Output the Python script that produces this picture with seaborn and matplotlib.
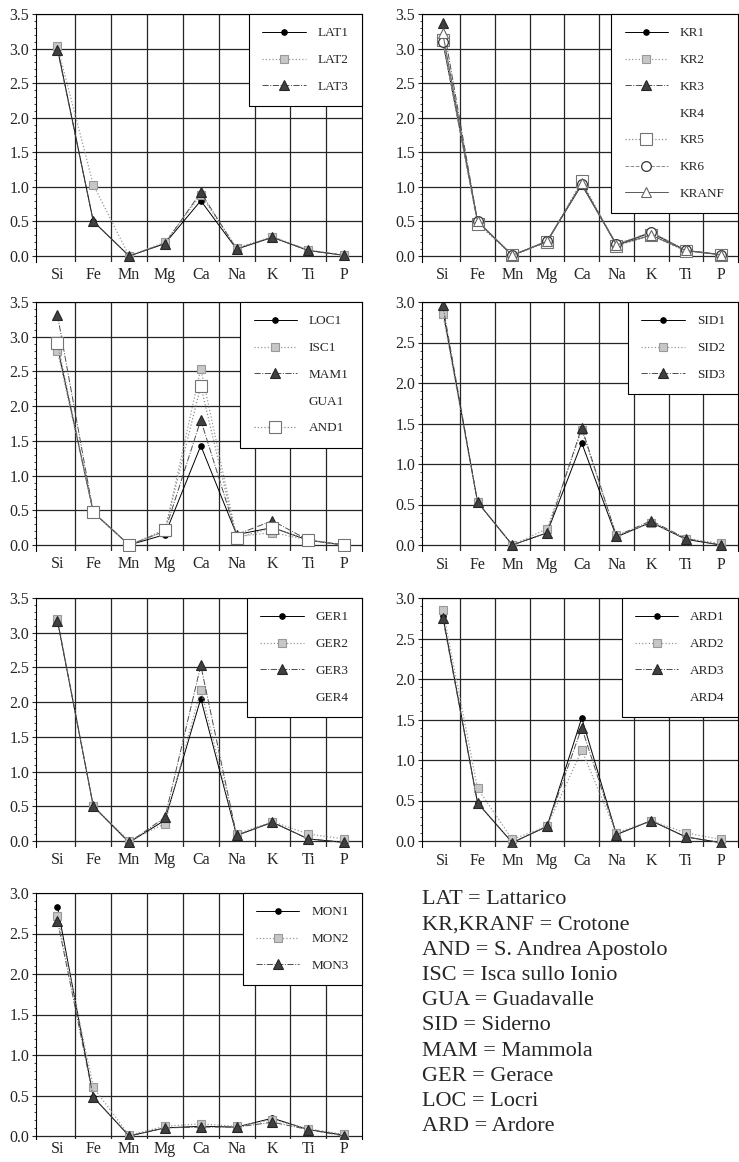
import numpy as np
import pandas as pd
import matplotlib.pyplot as plt
import seaborn as sns

sns.set_theme(style="ticks")
plt.rcParams['font.family'] = ['Liberation Serif', 'DejaVu Serif']

elements = ['Si', 'Fe', 'Mn', 'Mg', 'Ca', 'Na', 'K', 'Ti', 'P']

# Lattarico
lat1 = [3.00, 0.50, 0.00, 0.18, 0.80, 0.10, 0.27, 0.08, 0.01]
lat2 = [3.03, 1.03, 0.00, 0.20, 0.88, 0.12, 0.28, 0.09, 0.01]
lat3 = [2.98, 0.50, 0.00, 0.18, 0.92, 0.10, 0.27, 0.08, 0.01]

# Crotone
kr1 = [3.10, 0.50, 0.01, 0.21, 1.03, 0.16, 0.34, 0.08, 0.02]
kr2 = [3.12, 0.48, 0.01, 0.20, 1.06, 0.15, 0.30, 0.08, 0.02]
kr3 = [3.37, 0.50, 0.01, 0.21, 1.04, 0.17, 0.33, 0.08, 0.02]
kr4 = [3.15, 0.49, 0.01, 0.21, 1.05, 0.16, 0.32, 0.08, 0.02]
kr5 = [3.12, 0.47, 0.01, 0.20, 1.08, 0.15, 0.30, 0.07, 0.02]
kr6 = [3.10, 0.51, 0.01, 0.22, 1.04, 0.17, 0.35, 0.08, 0.02]
kranf = [3.22, 0.50, 0.01, 0.21, 1.05, 0.16, 0.30, 0.08, 0.02]

# Locri, Isca, Mammola, Guadavalle, S. Andrea
loc1 = [2.85, 0.47, 0.00, 0.15, 1.43, 0.15, 0.25, 0.07, 0.00]
isc1 = [2.79, 0.47, 0.00, 0.20, 2.54, 0.12, 0.18, 0.07, 0.00]
mam1 = [3.31, 0.47, 0.00, 0.20, 1.80, 0.15, 0.35, 0.07, 0.00]
gua1 = [3.05, 0.47, 0.00, 0.18, 1.95, 0.13, 0.28, 0.07, 0.00]
and1 = [2.91, 0.47, 0.00, 0.22, 2.29, 0.10, 0.25, 0.07, 0.00]

# Siderno
sid1 = [2.90, 0.53, 0.00, 0.15, 1.26, 0.10, 0.28, 0.07, 0.00]
sid2 = [2.85, 0.53, 0.00, 0.20, 1.42, 0.12, 0.27, 0.08, 0.02]
sid3 = [2.96, 0.53, 0.00, 0.15, 1.45, 0.11, 0.30, 0.08, 0.00]

# Gerace
ger1 = [3.17, 0.50, -0.02, 0.30, 2.05, 0.08, 0.27, 0.03, -0.02]
ger2 = [3.20, 0.50, 0.00, 0.25, 2.18, 0.10, 0.28, 0.10, 0.03]
ger3 = [3.17, 0.50, -0.02, 0.34, 2.53, 0.08, 0.27, 0.03, -0.02]
ger4 = [3.20, 0.55, 0.00, 0.30, 1.95, 0.15, 0.30, 0.10, 0.00]

# Ardore
ard1 = [2.78, 0.47, -0.02, 0.18, 1.52, 0.08, 0.25, 0.05, -0.02]
ard2 = [2.85, 0.65, 0.02, 0.18, 1.12, 0.10, 0.25, 0.10, 0.02]
ard3 = [2.75, 0.47, -0.02, 0.18, 1.40, 0.08, 0.25, 0.05, -0.02]
ard4 = [2.88, 0.55, 0.00, 0.18, 1.35, 0.10, 0.28, 0.08, 0.00]

# Monasterace
mon1 = [2.83, 0.48, 0.00, 0.10, 0.12, 0.11, 0.22, 0.08, 0.01]
mon2 = [2.72, 0.60, 0.01, 0.12, 0.15, 0.12, 0.20, 0.09, 0.02]
mon3 = [2.66, 0.48, 0.00, 0.10, 0.11, 0.11, 0.17, 0.08, 0.00]

sigle = ['LAT = Lattarico', 'KR,KRANF = Crotone', 'AND = S. Andrea Apostolo',
         'ISC = Isca sullo Ionio', 'GUA = Guadavalle', 'SID = Siderno',
         'MAM = Mammola', 'GER = Gerace', 'LOC = Locri', 'ARD = Ardore']

# stili delle serie
styles = {
    'dot': dict(color='black', marker='o', markersize=4, linestyle='-', linewidth=0.7,
                markerfacecolor='black', markeredgecolor='black'),
    'sq': dict(color='0.6', marker='s', markersize=5.5, linestyle=':', linewidth=0.9,
               markerfacecolor='0.78', markeredgecolor='0.6', markeredgewidth=0.8),
    'tri': dict(color='0.3', marker='^', markersize=6.5, linestyle='-.', linewidth=0.7,
                markerfacecolor='0.25', markeredgecolor='0.15', markeredgewidth=0.8),
    'none': dict(color='white', linestyle='-', linewidth=0.7, alpha=0),
    'osq': dict(color='0.55', marker='s', markersize=8.5, linestyle=':', linewidth=0.9,
                markerfacecolor='white', markeredgecolor='0.45', markeredgewidth=0.8),
    'ocirc': dict(color='0.55', marker='o', markersize=7, linestyle='--', linewidth=0.7,
                  markerfacecolor='white', markeredgecolor='0.2', markeredgewidth=0.9),
    'otri': dict(color='0.35', marker='^', markersize=7, linestyle='-', linewidth=0.7,
                 markerfacecolor='white', markeredgecolor='0.4', markeredgewidth=0.8),
}

panels = [
    (['LAT1', 'LAT2', 'LAT3'], [lat1, lat2, lat3], ['dot', 'sq', 'tri'], 3.5),
    (['KR1', 'KR2', 'KR3', 'KR4', 'KR5', 'KR6', 'KRANF'],
     [kr1, kr2, kr3, kr4, kr5, kr6, kranf],
     ['dot', 'sq', 'tri', 'none', 'osq', 'ocirc', 'otri'], 3.5),
    (['LOC1', 'ISC1', 'MAM1', 'GUA1', 'AND1'], [loc1, isc1, mam1, gua1, and1],
     ['dot', 'sq', 'tri', 'none', 'osq'], 3.5),
    (['SID1', 'SID2', 'SID3'], [sid1, sid2, sid3], ['dot', 'sq', 'tri'], 3.0),
    (['GER1', 'GER2', 'GER3', 'GER4'], [ger1, ger2, ger3, ger4], ['dot', 'sq', 'tri', 'none'], 3.5),
    (['ARD1', 'ARD2', 'ARD3', 'ARD4'], [ard1, ard2, ard3, ard4], ['dot', 'sq', 'tri', 'none'], 3.0),
    (['MON1', 'MON2', 'MON3'], [mon1, mon2, mon3], ['dot', 'sq', 'tri'], 3.0),
]

W, H = 739, 1162
fig = plt.figure(figsize=(W / 100, H / 100), dpi=100)

col_left = [36, 422]
col_width = [326, 316]
row_top = [14, 302, 598, 893]
row_zero = [256, 545, 841, 1136]
row_ymin = [-0.08, -0.08, -0.08, -0.04]
row_pad = [4, 4, 4, 1.5]

for i, (names, series, kinds, ymax) in enumerate(panels):
    r, c = divmod(i, 2)
    ymin = row_ymin[r]
    u = (row_zero[r] - row_top[r]) / ymax
    bottom_px = row_zero[r] - ymin * u
    ax = fig.add_axes([col_left[c] / W, 1 - bottom_px / H, col_width[c] / W,
                       (bottom_px - row_top[r]) / H])
    for name, vals, kind in zip(names, series, kinds):
        sns.lineplot(x=elements, y=vals, ax=ax, sort=False, label=name, **styles[kind])

    ax.set_xlim(-0.6, 8.5)
    ax.set_ylim(ymin, ymax)
    ax.set_yticks(np.arange(0, ymax + 0.01, 0.5))
    ax.set_yticklabels([f'{v:.1f}' for v in np.arange(0, ymax + 0.01, 0.5)])
    ax.set_yticks(np.arange(0, ymax + 0.01, 0.1), minor=True)
    ax.set_xticks(np.arange(0.5, 8, 1), minor=True)
    ax.set_axisbelow(True)
    ax.yaxis.grid(True, which='major', color='0.15', linewidth=0.9)
    ax.xaxis.grid(True, which='minor', color='0.15', linewidth=0.9)
    ax.tick_params(axis='x', which='both', length=0, pad=row_pad[r], labelsize=11.5)
    ax.tick_params(axis='y', which='major', length=3, width=0.8, pad=2, labelsize=11.5)
    ax.tick_params(axis='y', which='minor', length=1.5, width=0.6)
    ax.set_xlabel('')
    ax.set_ylabel('')
    for side in ['left', 'top', 'right']:
        ax.spines[side].set_color('black')
        ax.spines[side].set_linewidth(0.8)
    ax.spines['bottom'].set_visible(False)

    leg = ax.legend(loc='upper right', borderaxespad=0, frameon=True, fancybox=False,
                    edgecolor='black', framealpha=1, fontsize=9.5, labelspacing=1.1,
                    handlelength=3.3, handletextpad=0.9, borderpad=1.0)
    leg.get_frame().set_linewidth(0.8)

# legenda delle sigle
for k, line in enumerate(sigle):
    fig.text(422 / W, 1 - (900 + k * 25.2) / H, line, fontsize=16, va='center', ha='left')

fig.savefig('out.png', dpi=100)
